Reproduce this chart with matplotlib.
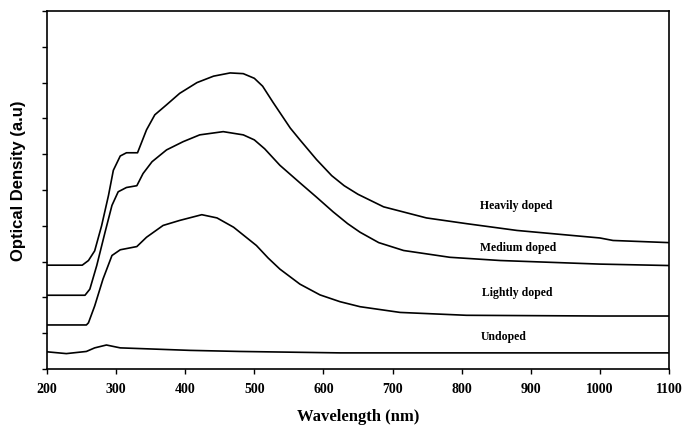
import numpy as np
import matplotlib
matplotlib.use("Agg")
import matplotlib.pyplot as plt

# curves (wavelength nm, optical density a.u.)
wl_heavy = [200, 251, 260, 269, 279, 289, 296, 306, 315, 331, 344, 356, 373, 392, 417,
            441, 465, 484, 500, 512, 527, 552, 566, 590, 612, 630, 650, 687, 749, 807, 880, 1000, 1019, 1100]
od_heavy = [2.9, 2.9, 3.03, 3.3, 4.0, 4.85, 5.55, 5.95, 6.04, 6.04, 6.68, 7.1, 7.38, 7.7, 8.0,
            8.18, 8.27, 8.25, 8.12, 7.9, 7.45, 6.73, 6.4, 5.85, 5.4, 5.12, 4.88, 4.53, 4.22, 4.06, 3.87, 3.66, 3.59, 3.53]

wl_medium = [200, 255, 262, 272, 284, 294, 303, 315, 330, 339, 352, 373, 397, 421, 455,
             484, 500, 515, 537, 566, 590, 614, 635, 653, 680, 716, 783, 856, 1000, 1100]
od_medium = [2.06, 2.06, 2.23, 2.89, 3.82, 4.57, 4.95, 5.07, 5.12, 5.46, 5.79, 6.12, 6.35, 6.54, 6.63,
             6.54, 6.4, 6.15, 5.69, 5.2, 4.8, 4.39, 4.06, 3.82, 3.53, 3.31, 3.12, 3.03, 2.93, 2.89]

wl_light = [200, 257, 260, 269, 281, 294, 306, 330, 344, 368, 392, 424, 446, 470,
            503, 520, 537, 566, 595, 624, 653, 711, 807, 1000, 1100]
od_light = [1.23, 1.23, 1.29, 1.76, 2.51, 3.17, 3.33, 3.42, 3.68, 4.01, 4.15, 4.31, 4.22, 3.96,
            3.45, 3.1, 2.79, 2.37, 2.07, 1.88, 1.74, 1.58, 1.5, 1.48, 1.48]

wl_undoped = [200, 228, 257, 269, 286, 306, 335, 407, 479, 624, 800, 1100]
od_undoped = [0.48, 0.43, 0.49, 0.59, 0.67, 0.59, 0.57, 0.52, 0.49, 0.45, 0.45, 0.45]

labels = ["Heavily doped", "Medium doped", "Lightly doped", "Undoped"]
label_x = [827, 827, 829, 827]
label_y = [4.58, 3.42, 2.15, 0.93]

fig = plt.figure(figsize=(6.83, 4.27), dpi=100)
ax = fig.add_axes([0.0688, 0.1335, 0.9107, 0.8384])

for wl, od in [(wl_heavy, od_heavy), (wl_medium, od_medium), (wl_light, od_light), (wl_undoped, od_undoped)]:
    ax.plot(wl, od, color="black", lw=1.2)

for t, x, y in zip(labels, label_x, label_y):
    ax.text(x, y, t, family="Liberation Serif", fontweight="bold", fontsize=8.5, va="center", ha="left")

ax.set_xlim(200, 1100)
ax.set_ylim(0, 10)
ax.set_xticks(np.arange(200, 1101, 100))
ax.set_yticks(np.arange(0, 11, 1))
ax.set_yticklabels([])
ax.tick_params(direction="out", length=3.5, width=1)
for lab in ax.get_xticklabels():
    lab.set_family("Liberation Serif")
    lab.set_fontweight("bold")
    lab.set_fontsize(10)
ax.tick_params(axis="x", pad=6)
for s in ax.spines.values():
    s.set_linewidth(1.2)

ax.set_xlabel("Wavelength (nm)", family="Liberation Serif", fontweight="bold", fontsize=12, labelpad=9)
ax.set_ylabel("Optical Density (a.u)", family="Liberation Sans", fontweight="bold", fontsize=12)
ax.yaxis.set_label_coords(-0.034, 0.53)

fig.savefig("out.png", dpi=100)
